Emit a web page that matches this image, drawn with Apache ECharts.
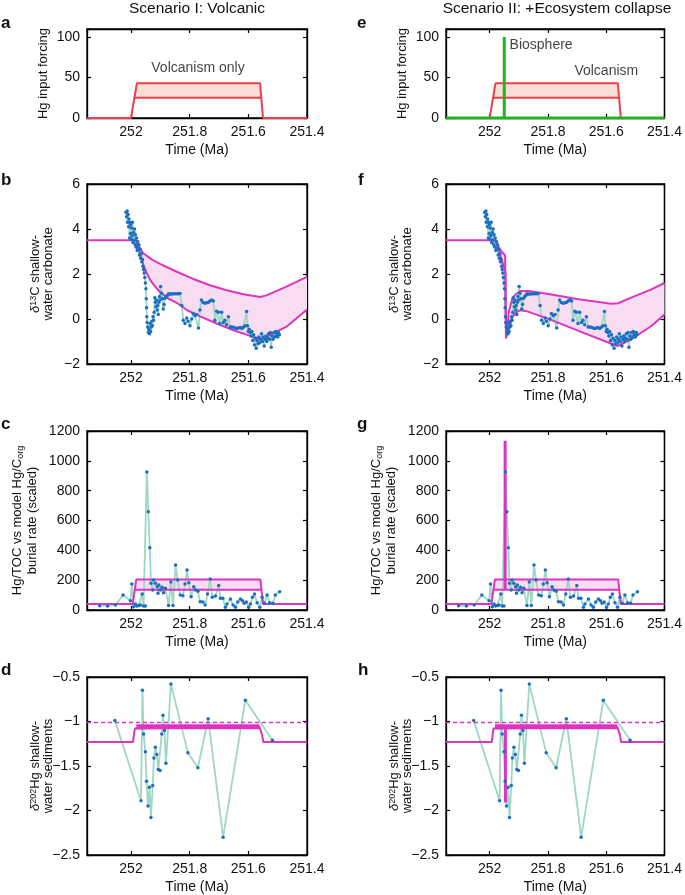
<!DOCTYPE html>
<html lang="en">
<head>
<meta charset="UTF-8">
<title>Hg scenarios</title>
<script src="https://cdn.jsdelivr.net/npm/echarts@6.0.0/dist/echarts.min.js"></script>
<style>body{margin:0;background:#fff}</style>
</head>
<body>
<div id="box" style="width:685px;height:895px"></div>
<script>
// ---- data (time in Ma) ----
var volcTop = [[252.15, 0], [252.0, 0], [251.98, 43], [251.56, 43], [251.55, 0], [251.4, 0]];
var volcMid = [[251.989, 25], [251.556, 25]];
var biosphere = [[252.15, 0], [251.95, 0], [251.95, 100], [251.95, 0], [251.4, 0]];

var d13cObs = [[252.017,4.75],[252.015,4.55],[252.013,4.8],[252.012,4.3],[252.010,4.65],[252.008,4.1],[252.007,4.45],[252.005,3.6],[252.004,4.3],[252.002,3.8],[252.001,4.2],[251.999,3.55],[251.998,4.05],[251.996,3.7],[251.995,4.3],[251.993,3.4],[251.991,3.85],[251.990,3.5],[251.988,4.0],[251.986,3.3],[251.985,3.75],[251.983,3.2],[251.981,3.6],[251.979,3.05],[251.977,3.45],[251.975,3.15],[251.973,3.3],[251.971,2.85],[251.969,3.1],[251.967,2.7],[251.965,2.9],[251.963,2.55],[251.961,2.65],[251.959,2.35],[251.957,2.2],[251.955,2.05],[251.953,1.85],[251.951,1.6],[251.949,1.35],[251.948,0.9],[251.947,0.5],[251.946,0.1],[251.945,-0.15],[251.943,-0.35],[251.941,-0.6],[251.939,-0.45],[251.937,-0.65],[251.935,-0.2],[251.933,-0.55],[251.931,-0.35],[251.929,-0.1],[251.927,-0.3],[251.925,0.1],[251.923,-0.05],[251.921,0.3],[251.919,0.95],[251.917,0.75],[251.915,0.55],[251.913,0.85],[251.911,0.4],[251.909,0.6],[251.907,0.2],[251.905,0.75],[251.903,1.0],[251.901,0.85],[251.899,1.45],[251.896,1.15],[251.893,0.9],[251.890,0.45],[251.887,0.65],[251.884,0.92],[251.880,1.0],[251.876,1.05],[251.872,1.12],[251.867,1.1],[251.862,1.12],[251.856,1.11],[251.850,1.12],[251.844,1.12],[251.838,1.12],[251.833,1.13],[251.827,0.6],[251.822,-0.05],[251.816,-0.2],[251.810,0.05],[251.805,-0.1],[251.799,-0.3],[251.793,0.0],[251.788,0.25],[251.782,0.15],[251.776,0.2],[251.770,-0.4],[251.765,0.4],[251.760,0.85],[251.754,0.73],[251.748,0.7],[251.742,0.72],[251.736,0.75],[251.731,0.8],[251.725,0.85],[251.719,0.8],[251.714,-0.05],[251.708,0.35],[251.702,0.3],[251.697,-0.2],[251.691,0.3],[251.685,-0.15],[251.680,-0.05],[251.674,-0.25],[251.668,0.1],[251.662,-0.35],[251.657,-0.35],[251.651,-0.37],[251.645,-0.4],[251.640,-0.42],[251.634,-0.4],[251.628,-0.38],[251.622,-0.42],[251.617,-0.37],[251.611,-0.3],[251.606,0.33],[251.603,-0.3],[251.600,-0.56],[251.597,-0.45],[251.594,-0.6],[251.591,-0.75],[251.588,-0.55],[251.585,-0.95],[251.582,-0.7],[251.579,-1.15],[251.576,-0.85],[251.573,-1.3],[251.570,-0.95],[251.567,-1.1],[251.564,-0.8],[251.561,-1.05],[251.558,-0.9],[251.555,-0.65],[251.552,-1.0],[251.549,-0.8],[251.546,-1.2],[251.543,-0.9],[251.540,-0.75],[251.537,-1.0],[251.534,-0.85],[251.531,-0.65],[251.528,-0.9],[251.525,-0.6],[251.522,-1.25],[251.519,-0.75],[251.516,-0.9],[251.513,-0.6],[251.510,-0.8],[251.507,-0.55],[251.504,-0.7],[251.500,-0.8],[251.497,-0.6],[251.494,-0.7]];

var d13cUpperI = [[252.15,3.5],[251.983,3.5],[251.972,3.2],[251.958,2.92],[251.93,2.65],[251.901,2.45],[251.844,2.1],[251.788,1.78],[251.731,1.5],[251.674,1.28],[251.617,1.1],[251.56,0.98],[251.538,1.05],[251.47,1.44],[251.4,1.87]];
var d13cLowerI = [[251.983,3.5],[251.970,2.9],[251.958,2.4],[251.944,1.98],[251.935,1.74],[251.916,1.42],[251.901,1.2],[251.872,0.9],[251.844,0.72],[251.81,0.4],[251.765,0.12],[251.708,-0.2],[251.651,-0.5],[251.594,-0.75],[251.56,-0.89],[251.538,-0.79],[251.47,-0.34],[251.4,0.42]];
var d13cUpperII = [[252.15,3.5],[251.98,3.5],[251.965,3.1],[251.947,2.82],[251.944,-0.86],[251.934,0.36],[251.923,0.88],[251.911,1.10],[251.894,1.25],[251.866,1.25],[251.809,1.13],[251.695,0.88],[251.582,0.68],[251.559,0.70],[251.514,0.95],[251.445,1.32],[251.4,1.6]];
var d13cLowerII = [[251.98,3.5],[251.946,2.1],[251.944,-0.86],[251.934,-0.38],[251.923,0.06],[251.911,0.28],[251.894,0.39],[251.877,0.36],[251.809,0.06],[251.695,-0.53],[251.582,-1.10],[251.561,-1.2],[251.514,-0.90],[251.445,-0.31],[251.4,0.2]];

var hgTocObs = [[252.107,29],[252.080,27],[252.053,34],[252.027,100],[252.002,62],[251.997,174],[251.991,22],[251.985,40],[251.980,27],[251.974,31],[251.968,34],[251.962,107],[251.957,27],[251.951,27],[251.946,925],[251.941,659],[251.936,418],[251.932,179],[251.926,134],[251.923,201],[251.917,179],[251.911,156],[251.908,112],[251.905,168],[251.900,134],[251.894,152],[251.889,116],[251.883,145],[251.872,31],[251.864,188],[251.857,31],[251.848,302],[251.841,201],[251.832,100],[251.823,96],[251.816,174],[251.809,268],[251.803,183],[251.795,89],[251.786,156],[251.780,134],[251.772,125],[251.764,56],[251.755,54],[251.747,34],[251.739,107],[251.730,208],[251.723,85],[251.712,94],[251.701,165],[251.695,78],[251.687,78],[251.678,18],[251.673,40],[251.661,74],[251.652,34],[251.644,18],[251.636,54],[251.627,74],[251.620,62],[251.614,45],[251.607,54],[251.599,18],[251.593,40],[251.586,85],[251.579,107],[251.570,49],[251.561,18],[251.553,85],[251.545,45],[251.536,100],[251.527,49],[251.516,45],[251.508,100],[251.493,123]];
var hgBurial = [[252.15,40],[251.994,40],[251.982,205],[251.559,205],[251.55,40],[251.4,40]];
var hgBurialLow = [[251.989,135],[251.554,135]];
var hgBandTop = [[251.982,205],[251.559,205]];
var hgSpike = [[251.947,135],[251.947,1135]];

var d202Obs = [[252.055,-0.99],[251.966,-1.89],[251.961,-0.65],[251.957,-1.14],[251.951,-1.34],[251.947,-1.67],[251.942,-1.95],[251.937,-1.74],[251.932,-2.08],[251.926,-1.72],[251.922,-1.41],[251.917,-1.29],[251.912,-1.37],[251.907,-1.54],[251.901,-1.55],[251.895,-1.14],[251.891,-0.93],[251.886,-1.10],[251.881,-1.47],[251.864,-0.58],[251.806,-1.35],[251.772,-1.52],[251.737,-0.97],[251.686,-2.30],[251.610,-0.76],[251.518,-1.21]];
var d202Model = [[252.15,-1.23],[251.993,-1.23],[251.99,-1.15],[251.987,-1.08],[251.982,-1.06],[251.562,-1.06],[251.556,-1.08],[251.553,-1.15],[251.549,-1.23],[251.4,-1.23]];
var d202Band = [[251.982,-1.06],[251.562,-1.06]];
var d202Dashed = [[252.15,-1.01],[251.4,-1.01]];
var d202Spike = [[251.946,-1.06],[251.946,-1.91]];

// ---- layout ----
var FONT = 'Liberation Sans';
var INK = '#111111';
var AXIS = '#000000';
var RED = '#ec3f4a', RED_FILL = '#f9ddd6';
var MAG = '#dc35bf', MAG_FILL = '#f8dcf2';
var GREEN = '#20b420';
var DOT = '#1a6fc2', OBS_LINE = '#9fd7c2';

var cols = [{left: 87, width: 220}, {left: 446, width: 221}];
var rows = [{top: 29, height: 89}, {top: 184, height: 180}, {top: 431, height: 179}, {top: 677, height: 178}];
var yRanges = [
    {min: 0, max: 110, interval: 50},
    {min: -2, max: 6, interval: 2},
    {min: 0, max: 1200, interval: 200},
    {min: -2.5, max: -0.5, interval: 0.5}
];
var yNames = ['Hg input forcing',
    '{i|δ}{sup|13}C shallow-\nwater carbonate',
    'Hg/TOC vs model Hg/C{sub|org}\nburial rate (scaled)',
    '{i|δ}{sup|202}Hg shallow-\nwater sediments'];
var yNameGaps = [37, 32, 47, 32];
var yNameLH = [13, 13, 15, 13];

function lineOpt() { return {show: true, onZero: false, lineStyle: {color: AXIS, width: 1.3, opacity: 1}}; }
function tickOpt() { return {show: true, inside: true, length: 4, lineStyle: {color: AXIS, width: 1.2, opacity: 1}}; }

var grids = [], xAxes = [], yAxes = [];
rows.forEach(function (r, ri) {
    cols.forEach(function (c, ci) {
        var g = grids.length;
        grids.push({left: c.left, top: r.top, width: c.width, height: r.height,
            show: true, borderColor: AXIS, borderWidth: 1.3});
        var rng = yRanges[ri];
        var lh = yNameLH[ri];
        xAxes.push({
            type: 'value', gridIndex: g, min: 251.4, max: 252.15, interval: 0.2, inverse: true,
            position: 'bottom', splitLine: {show: false}, axisLine: lineOpt(), axisTick: tickOpt(),
            name: 'Time (Ma)', nameLocation: 'middle', nameGap: 25, nameMoveOverlap: false,
            nameTextStyle: {fontFamily: FONT, fontSize: 14, color: INK},
            axisLabel: {
                margin: 7, fontFamily: FONT, fontSize: 14, color: INK,
                formatter: function (v) {
                    if (Math.abs(v * 5 - Math.round(v * 5)) > 1e-6) return '';
                    return String(Math.round(v * 10) / 10);
                }
            }
        });
        xAxes.push({
            type: 'value', gridIndex: g, min: 251.4, max: 252.15, interval: 0.2, inverse: true,
            position: 'top', splitLine: {show: false}, axisLine: lineOpt(), axisTick: tickOpt(),
            axisLabel: {show: false}
        });
        yAxes.push({
            type: 'value', gridIndex: g, min: rng.min, max: rng.max, interval: rng.interval,
            position: 'left', splitLine: {show: false}, axisLine: lineOpt(), axisTick: tickOpt(),
            name: yNames[ri], nameLocation: 'middle', nameGap: yNameGaps[ri], nameRotate: 90,
            nameMoveOverlap: false,
            nameTextStyle: {
                fontFamily: FONT, fontSize: 13, color: INK, lineHeight: lh,
                rich: {
                    i: {fontFamily: FONT, fontSize: 13, fontStyle: 'italic', color: INK, lineHeight: lh},
                    sup: {fontFamily: FONT, fontSize: 9, color: INK, lineHeight: 7, verticalAlign: 'top'},
                    sub: {fontFamily: FONT, fontSize: 9, color: INK, lineHeight: 7, verticalAlign: 'bottom'}
                }
            },
            axisLabel: {
                margin: 7, fontFamily: FONT, fontSize: 14, color: INK,
                formatter: function (v) {
                    var k = (v - rng.min) / rng.interval;
                    if (Math.abs(k - Math.round(k)) > 1e-6) return '';
                    return v < 0 ? '\u2212' + String(-v) : String(v);
                }
            }
        });
        yAxes.push({
            type: 'value', gridIndex: g, min: rng.min, max: rng.max, interval: rng.interval,
            position: 'right', splitLine: {show: false}, axisLine: lineOpt(), axisTick: tickOpt(),
            axisLabel: {show: false}
        });
    });
});

// ---- series helpers ----
function ax(g) { return {xAxisIndex: 2 * g, yAxisIndex: 2 * g}; }
function lineS(g, data, color, width, extra) {
    return Object.assign({type: 'line', data: data, symbol: 'none', silent: true,
        lineStyle: {color: color, width: width}}, ax(g), extra || {});
}
function obsS(g, data) {
    return Object.assign({type: 'line', data: data, symbol: 'circle', symbolSize: 3.5, showSymbol: true,
        silent: true, itemStyle: {color: DOT}, lineStyle: {color: OBS_LINE, width: 1.8}}, ax(g));
}
function bandS(g, top, bottom, fill) {
    return Object.assign({
        type: 'custom', silent: true, data: [[251.8, 0]],
        renderItem: function (params, api) {
            var pts = top.map(function (p) { return api.coord(p); })
                .concat(bottom.slice().reverse().map(function (p) { return api.coord(p); }));
            return {type: 'polygon', shape: {points: pts}, style: {fill: fill}};
        }
    }, ax(g));
}
function textS(g, pos, text, align) {
    return Object.assign({
        type: 'scatter', data: [pos], symbolSize: 1, silent: true, itemStyle: {color: 'transparent'},
        label: {show: true, formatter: text, position: [0, 0], align: align, verticalAlign: 'middle',
            fontFamily: FONT, fontSize: 14, color: INK}
    }, ax(g));
}

var series = [];
// empty series on the top/right axes so their ticks get drawn
for (var g0 = 0; g0 < 8; g0++) {
    series.push({type: 'line', data: [], xAxisIndex: 2 * g0 + 1, yAxisIndex: 2 * g0 + 1, silent: true});
}
// a / e: Hg input forcing
[0, 1].forEach(function (g) {
    series.push(bandS(g, [volcTop[2], volcTop[3]], volcMid, RED_FILL));
    series.push(lineS(g, volcTop, RED, 2));
    series.push(lineS(g, volcMid, RED, 2));
});
series.push(textS(0, [251.77, 61], 'Volcanism only', 'center'));
series.push(lineS(1, biosphere, GREEN, 3));
series.push(textS(1, [251.93, 89], 'Biosphere', 'left'));
series.push(textS(1, [251.598, 57], 'Volcanism', 'center'));
// b / f: carbon isotopes
series.push(bandS(2, d13cUpperI.slice(1), d13cLowerI, MAG_FILL));
series.push(obsS(2, d13cObs));
series.push(lineS(2, d13cUpperI, MAG, 2));
series.push(lineS(2, d13cLowerI, MAG, 2));
series.push(bandS(3, d13cUpperII.slice(1), d13cLowerII, MAG_FILL));
series.push(obsS(3, d13cObs));
series.push(lineS(3, d13cUpperII, MAG, 2));
series.push(lineS(3, d13cLowerII, MAG, 2));
// c / g: Hg/TOC
[4, 5].forEach(function (g) {
    series.push(bandS(g, hgBandTop, hgBurialLow, MAG_FILL));
    series.push(obsS(g, hgTocObs));
    series.push(lineS(g, hgBurial, MAG, 2));
    series.push(lineS(g, hgBurialLow, MAG, 2));
});
series.push(lineS(5, hgSpike, MAG, 3));
// d / h: Hg isotopes
[6, 7].forEach(function (g) {
    series.push(obsS(g, d202Obs));
    series.push(lineS(g, d202Dashed, MAG, 1.5, {lineStyle: {color: MAG, width: 1.5, type: [4, 3]}}));
    series.push(lineS(g, d202Model, MAG, 2));
    series.push(lineS(g, d202Band, MAG, 5));
});
series.push(lineS(7, d202Spike, MAG, 3));

// ---- titles and panel letters ----
function txt(x, y, s, size, weight, align) {
    return {type: 'text', x: x, y: y, silent: true,
        style: {text: s, fill: INK, font: (weight || 'normal') + ' ' + size + 'px "' + FONT + '"',
            align: align || 'left', verticalAlign: 'middle'}};
}
var graphics = [
    txt(197, 9, 'Scenario I: Volcanic', 15.5, 'normal', 'center'),
    txt(557, 9, 'Scenario II: +Ecosystem collapse', 15.5, 'normal', 'center'),
    txt(1, 23, 'a', 17, 'bold'), txt(1, 180, 'b', 17, 'bold'),
    txt(1, 424, 'c', 17, 'bold'), txt(1, 670, 'd', 17, 'bold'),
    txt(357, 23, 'e', 17, 'bold'), txt(358, 180, 'f', 17, 'bold'),
    txt(357, 424, 'g', 17, 'bold'), txt(358, 670, 'h', 17, 'bold')
];

var chart = echarts.init(document.getElementById('box'));
chart.setOption({
    animation: false,
    textStyle: {fontFamily: FONT},
    grid: grids,
    xAxis: xAxes,
    yAxis: yAxes,
    series: series,
    graphic: graphics
});
</script>
</body>
</html>
